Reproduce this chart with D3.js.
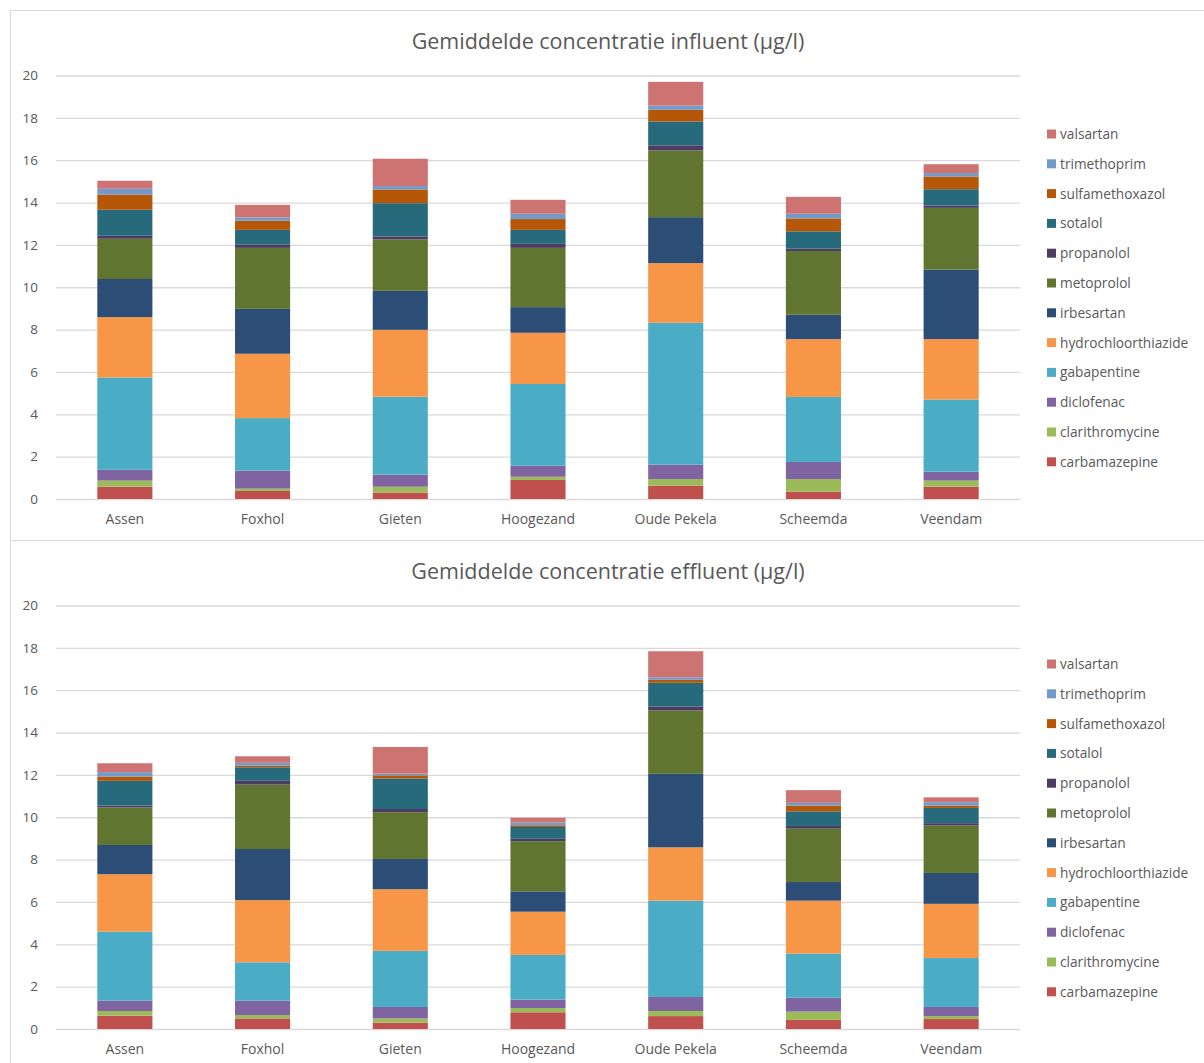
<!DOCTYPE html>
<html>
<head>
<meta charset="utf-8">
<script src="https://cdn.jsdelivr.net/npm/d3@7"></script>
<style>
  html, body { margin: 0; padding: 0; background: #fff; }
  svg { display: block; font-family: "Open Sans", Lato, "Liberation Sans", sans-serif; }
</style>
</head>
<body>
<svg id="chart" width="1204" height="1063"></svg>
<script>
// Locations (x-axis categories)
const locations = ["Assen", "Foxhol", "Gieten", "Hoogezand", "Oude Pekela", "Scheemda", "Veendam"];

// Substances, bottom of the stack first
const substances = ["carbamazepine", "clarithromycine", "diclofenac", "gabapentine",
  "hydrochloorthiazide", "irbesartan", "metoprolol", "propanolol", "sotalol",
  "sulfamethoxazol", "trimethoprim", "valsartan"];

const substanceColors = ["#C0504D", "#9BBB59", "#8064A2", "#4BACC6", "#F79646", "#2C4D75",
  "#5F7530", "#4D3B62", "#276A7C", "#B65708", "#729ACA", "#CD7371"];

const yTicks = [0, 2, 4, 6, 8, 10, 12, 14, 16, 18, 20];

// Average influent concentrations (µg/l), one array per location, in substance order
const influentAssen      = [0.58, 0.29, 0.51, 4.36, 2.85, 1.80, 1.90, 0.14, 1.23, 0.72, 0.27, 0.38];
const influentFoxhol     = [0.38, 0.11, 0.85, 2.48, 3.04, 2.12, 2.88, 0.15, 0.70, 0.43, 0.16, 0.59];
const influentGieten     = [0.30, 0.28, 0.57, 3.68, 3.16, 1.84, 2.43, 0.14, 1.57, 0.65, 0.16, 1.29];
const influentHoogezand  = [0.90, 0.15, 0.52, 3.86, 2.42, 1.21, 2.80, 0.19, 0.66, 0.51, 0.25, 0.66];
const influentOudePekela = [0.63, 0.31, 0.68, 6.70, 2.82, 2.17, 3.15, 0.24, 1.13, 0.55, 0.20, 1.12];
const influentScheemda   = [0.35, 0.59, 0.81, 3.07, 2.73, 1.15, 3.01, 0.11, 0.82, 0.61, 0.22, 0.80];
const influentVeendam    = [0.58, 0.29, 0.42, 3.41, 2.85, 3.28, 2.92, 0.11, 0.77, 0.60, 0.16, 0.42];

// Average effluent concentrations (µg/l)
const effluentAssen      = [0.63, 0.22, 0.49, 3.26, 2.71, 1.38, 1.77, 0.09, 1.17, 0.20, 0.21, 0.42];
const effluentFoxhol     = [0.50, 0.16, 0.68, 1.81, 2.94, 2.41, 3.04, 0.18, 0.64, 0.08, 0.13, 0.31];
const effluentGieten     = [0.30, 0.20, 0.54, 2.65, 2.91, 1.43, 2.21, 0.15, 1.44, 0.15, 0.08, 1.26];
const effluentHoogezand  = [0.79, 0.20, 0.40, 2.11, 2.04, 0.96, 2.37, 0.11, 0.56, 0.08, 0.13, 0.23];
const effluentOudePekela = [0.61, 0.24, 0.66, 4.55, 2.52, 3.47, 2.99, 0.19, 1.12, 0.14, 0.12, 1.23];
const effluentScheemda   = [0.43, 0.39, 0.66, 2.08, 2.50, 0.88, 2.52, 0.13, 0.69, 0.27, 0.13, 0.60];
const effluentVeendam    = [0.47, 0.14, 0.43, 2.31, 2.56, 1.46, 2.24, 0.11, 0.72, 0.11, 0.16, 0.23];

const influentRows = [influentAssen, influentFoxhol, influentGieten, influentHoogezand,
  influentOudePekela, influentScheemda, influentVeendam];
const effluentRows = [effluentAssen, effluentFoxhol, effluentGieten, effluentHoogezand,
  effluentOudePekela, effluentScheemda, effluentVeendam];

const svg = d3.select("#chart");
const textColor = "#595959";
const gridColor = "#d9d9d9";
const labelFont = "'Open Sans', Lato, sans-serif";

function toTable(rows) {
  return rows.map((vals, i) => {
    const o = { location: locations[i] };
    substances.forEach((s, j) => { o[s] = vals[j]; });
    return o;
  });
}

const color = d3.scaleOrdinal().domain(substances).range(substanceColors);

function drawChart(top, height, title, rows) {
  const g = svg.append("g").attr("transform", `translate(0,${top})`);

  // chart frame
  g.append("rect")
    .attr("x", 10.5).attr("y", 0.5)
    .attr("width", 1204).attr("height", height)
    .attr("fill", "#fff").attr("stroke", gridColor).attr("stroke-width", 1);

  g.append("text")
    .attr("x", 608).attr("y", 38.5)
    .attr("text-anchor", "middle")
    .attr("fill", textColor)
    .attr("font-size", 21.5)
    .attr("font-family", labelFont)
    .text(title);

  const x = d3.scaleBand().domain(locations).range([56, 1020]).paddingInner(0.6).paddingOuter(0.3);
  const y = d3.scaleLinear().domain([0, 20]).range([489, 65.5]);

  // gridlines + y labels
  const yAxis = d3.axisLeft(y).tickValues(yTicks).tickSize(-(1020 - 56)).tickPadding(18).tickFormat(d3.format("d"));
  const ya = g.append("g").attr("transform", "translate(56,0)").call(yAxis);
  ya.select(".domain").remove();
  ya.selectAll(".tick line").attr("stroke", gridColor).attr("stroke-width", 1.3);
  ya.selectAll(".tick text").attr("fill", textColor).attr("font-size", 13.5)
    .attr("font-family", labelFont);

  const stack = d3.stack().keys(substances);
  const series = stack(toTable(rows));

  g.append("g").selectAll("g")
    .data(series)
    .join("g")
      .attr("fill", d => color(d.key))
    .selectAll("rect")
    .data(d => d)
    .join("rect")
      .attr("x", d => x(d.data.location))
      .attr("width", x.bandwidth())
      .attr("y", d => y(d[1]))
      .attr("height", d => y(d[0]) - y(d[1]));

  // x axis labels
  const xAxis = d3.axisBottom(x).tickSize(0).tickPadding(15);
  const xa = g.append("g").attr("transform", `translate(0,${y(0)})`).call(xAxis);
  xa.select(".domain").remove();
  xa.selectAll(".tick text").attr("fill", textColor).attr("font-size", 14)
    .attr("font-family", labelFont);

  // legend, top entry is the last substance
  const legendItems = substances.slice().reverse();
  const lg = g.append("g").attr("transform", "translate(1047,0)");
  const item = lg.selectAll("g").data(legendItems).join("g")
    .attr("transform", (d, i) => `translate(0,${119.5 + i * 29.8})`);
  item.append("rect").attr("width", 9).attr("height", 9).attr("fill", d => color(d));
  item.append("text").attr("x", 13).attr("y", 9.5)
    .attr("fill", textColor).attr("font-size", 13.7).attr("font-family", labelFont).text(d => d);
}

drawChart(10, 530, "Gemiddelde concentratie influent (µg/l)", influentRows);
drawChart(540, 540, "Gemiddelde concentratie effluent (µg/l)", effluentRows);
</script>
</body>
</html>
